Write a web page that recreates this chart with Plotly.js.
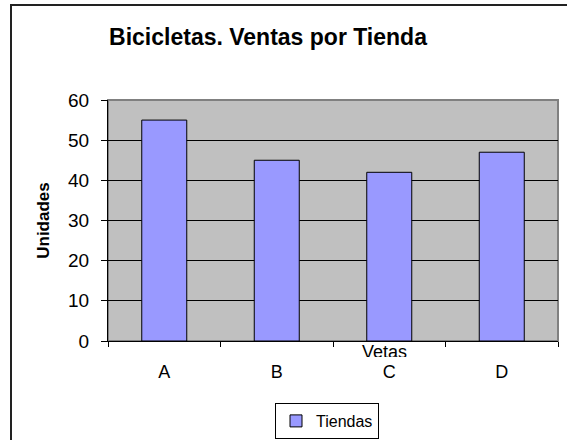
<!DOCTYPE html>
<html>
<head>
<meta charset="utf-8">
<script src="https://cdn.plot.ly/plotly-3.0.1.min.js"></script>
<style>
html,body{margin:0;padding:0;background:#fff;overflow:hidden;}
#wrap{position:relative;width:567px;height:440px;overflow:hidden;}
#chart{position:absolute;left:0;top:0;width:567px;height:440px;}
#frame{position:absolute;left:10px;top:4px;width:700px;height:600px;border-left:2px solid #222;border-top:2px solid #222;pointer-events:none;}
#clip{position:absolute;left:350px;top:357px;width:70px;height:6px;background:#fff;pointer-events:none;}
</style>
</head>
<body>
<div id="wrap">
<div id="chart"></div>
<div id="clip"></div>
<div id="frame"></div>
</div>
<script>
var categories = ['A', 'B', 'C', 'D'];
var ventas = [55, 45, 42, 47];
var seriesName = 'Tiendas';
var yTicks = [0, 10, 20, 30, 40, 50, 60];

var trace = {
  type: 'bar',
  x: categories,
  y: ventas,
  name: seriesName,
  showlegend: true,
  marker: {color: '#9999FF', line: {color: '#000000', width: 1}}
};

var layout = {
  width: 567,
  height: 440,
  margin: {l: 108, r: 9, t: 100, b: 99},
  paper_bgcolor: '#FFFFFF',
  plot_bgcolor: '#C0C0C0',
  bargap: 0.6,
  font: {family: 'Arial, Liberation Sans, sans-serif', color: '#000', size: 18},
  title: {
    text: '<b>Bicicletas. Ventas por Tienda</b>',
    font: {family: 'Arial, Liberation Sans, sans-serif', size: 23, color: '#000'},
    x: 268 / 567, xanchor: 'center', xref: 'container',
    y: 1 - 37 / 440, yanchor: 'middle', yref: 'container'
  },
  xaxis: {
    type: 'category',
    showline: true, linecolor: '#000', linewidth: 1,
    ticks: 'outside', tickson: 'boundaries', ticklen: 5, tickcolor: '#000', tickwidth: 1,
    ticklabelstandoff: 14,
    tickfont: {size: 18},
    showgrid: false, zeroline: false
  },
  yaxis: {
    range: [0, 60],
    tickvals: yTicks,
    showline: true, linecolor: '#000', linewidth: 1,
    ticks: 'outside', ticklen: 6, tickcolor: '#000', tickwidth: 1,
    ticklabelstandoff: 8,
    tickfont: {size: 19},
    showgrid: true, gridcolor: '#000', gridwidth: 1,
    zeroline: false,
    title: {text: '<b>Unidades</b>', font: {size: 17}, standoff: 14}
  },
  legend: {
    orientation: 'h',
    x: 327 / 567, xanchor: 'center', xref: 'container',
    y: (440 - 403) / 440, yanchor: 'top', yref: 'container',
    bordercolor: '#000', borderwidth: 1,
    bgcolor: '#fff',
    font: {size: 16},
    itemwidth: 30
  },
  shapes: [{
    type: 'rect', xref: 'paper', yref: 'paper', x0: 0, x1: 1, y0: 0, y1: 1,
    line: {color: '#808080', width: 2}, layer: 'below'
  }],
  annotations: [{
    text: 'Vetas', xref: 'paper', yref: 'paper',
    x: (384 - 108) / 450, y: (341 - 352) / 241,
    xanchor: 'center', yanchor: 'middle', showarrow: false,
    font: {size: 18}
  }]
};

Plotly.newPlot('chart', [trace], layout, {displayModeBar: false, staticPlot: true});
</script>
</body>
</html>
